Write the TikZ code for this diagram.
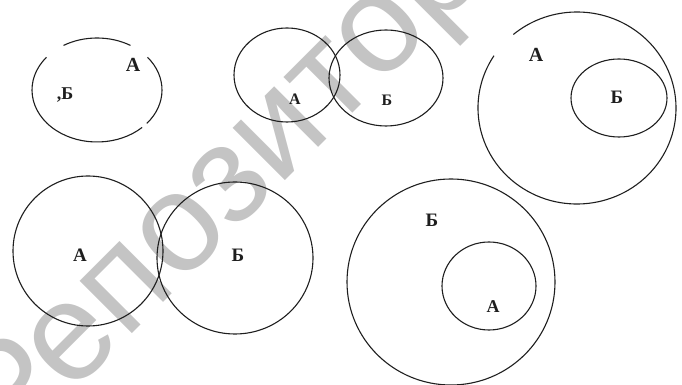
\documentclass[tikz,border=0pt]{standalone}
\usepackage{fontspec}
\setmainfont{Liberation Serif}
\newfontfamily\wmfont{Liberation Sans}
\definecolor{ink}{HTML}{1E1E1E}
\definecolor{wmfill}{HTML}{C4C4C4}
\tikzset{
  ring/.style={draw=ink, line width=1.1pt},
  lbl/.style={inner sep=0pt, text=ink, font=\bfseries\fontsize{19}{19}\selectfont},
  wmtext/.style={rotate=45, anchor=base, inner sep=0pt, font=\wmfont\fontsize{140}{140}\selectfont},
}
\begin{document}
\begin{tikzpicture}[x=1pt, y=1pt]
\useasboundingbox (0,0) rectangle (682,385);
% watermark (behind the drawing)
\node[wmtext, text=wmfill] (wm) at (304,223) {Репозиторий};
% centres
\coordinate (c1) at (97,295);
\coordinate (c2a) at (287,310);
\coordinate (c2b) at (386,307);
\coordinate (c3a) at (577,277);
\coordinate (c3b) at (619,287);
\coordinate (c4a) at (88,134);
\coordinate (c4b) at (235,127);
\coordinate (c5b) at (451,103);
\coordinate (c5a) at (489,99);
% figure 1 : broken ellipse
\draw[ring] ([shift={(59:65 and 52)}]c1) arc[start angle=59, end angle=121, x radius=65, y radius=52];
\draw[ring] ([shift={(141:65 and 52)}]c1) arc[start angle=141, end angle=314, x radius=65, y radius=52];
\draw[ring] ([shift={(320:65 and 52)}]c1) arc[start angle=320, end angle=399, x radius=65, y radius=52];
% figure 2 : two overlapping ellipses
\draw[ring] (c2a) ellipse[x radius=53, y radius=47];
\draw[ring] (c2b) ellipse[x radius=57, y radius=48];
% figure 3 : A contains B
\draw[ring] ([shift={(147:99 and 96)}]c3a) arc[start angle=147, end angle=490, x radius=99, y radius=96];
\draw[ring] (c3b) ellipse[x radius=48, y radius=39];
% figure 4 : two touching circles
\draw[ring] (c4a) ellipse[x radius=75, y radius=75];
\draw[ring] (c4b) ellipse[x radius=78, y radius=76];
% figure 5 : B contains A
\draw[ring] (c5b) ellipse[x radius=104, y radius=103];
\draw[ring] (c5a) ellipse[x radius=47, y radius=44];
% labels
\node[lbl, font=\bfseries\fontsize{20}{20}\selectfont] (l1a) at (133,320) {А};
\node[lbl, font=\bfseries\fontsize{18}{18}\selectfont] (l1b) at (65,290) {,Б};
\node[lbl, font=\bfseries\fontsize{16}{16}\selectfont] (l2a) at (295,286) {А};
\node[lbl, font=\bfseries\fontsize{16}{16}\selectfont] (l2b) at (387,285) {Б};
\node[lbl, font=\bfseries\fontsize{20}{20}\selectfont] (l3a) at (536,330) {А};
\node[lbl] (l3b) at (617,288) {Б};
\node[lbl] (l4a) at (80,130) {А};
\node[lbl] (l4b) at (238,130) {Б};
\node[lbl] (l5b) at (432,165) {Б};
\node[lbl, font=\bfseries\fontsize{18}{18}\selectfont] (l5a) at (493,78) {А};
\end{tikzpicture}
\end{document}
